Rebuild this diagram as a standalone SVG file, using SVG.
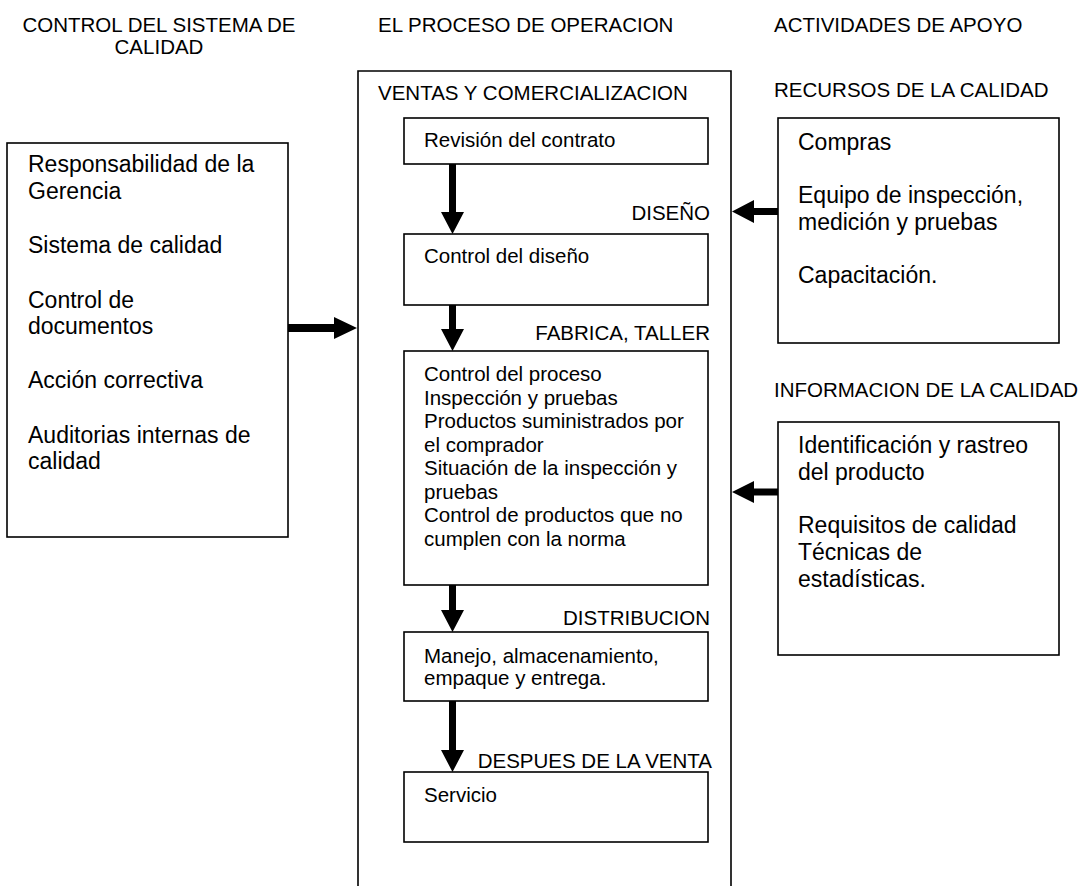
<svg xmlns="http://www.w3.org/2000/svg" width="1085" height="886" viewBox="0 0 1085 886">
  <style>
    .box { fill: #ffffff; stroke: #000000; stroke-width: 1.6; }
    .t { font-family: "Liberation Sans", Arial, sans-serif; fill: #000000; }
    .s { font-size: 20.5px; }
    .l { font-size: 23px; }
    .arrow { fill: #000000; stroke: none; }
  </style>
  <rect width="1085" height="886" fill="#ffffff"/>

  <!-- column headings -->
  <g id="headings">
    <text class="t s" x="159" y="32" text-anchor="middle">CONTROL DEL SISTEMA DE</text>
    <text class="t s" x="159" y="54" text-anchor="middle">CALIDAD</text>
    <text class="t s" x="378" y="32">EL PROCESO DE OPERACION</text>
    <text class="t s" x="774" y="32">ACTIVIDADES DE APOYO</text>
  </g>

  <!-- quality system control -->
  <g id="control-sistema">
    <rect class="box" x="7" y="143" width="281" height="394"/>
    <text class="t l" x="28" y="172">Responsabilidad de la</text>
    <text class="t l" x="28" y="199">Gerencia</text>
    <text class="t l" x="28" y="253">Sistema de calidad</text>
    <text class="t l" x="28" y="308">Control de</text>
    <text class="t l" x="28" y="334">documentos</text>
    <text class="t l" x="28" y="388">Acción correctiva</text>
    <text class="t l" x="28" y="443">Auditorias internas de</text>
    <text class="t l" x="28" y="469">calidad</text>
  </g>

  <!-- operation process frame (open at the bottom) -->
  <g id="proceso-operacion">
    <path d="M358,892 V71 H731 V892" fill="none" stroke="#000000" stroke-width="1.6"/>
    <text class="t s" x="378" y="100">VENTAS Y COMERCIALIZACION</text>
  </g>

  <g id="revision-contrato">
    <rect class="box" x="404" y="118" width="304" height="46"/>
    <text class="t s" x="424" y="147">Revisión del contrato</text>
  </g>

  <g id="diseno">
    <text class="t s" x="710" y="220" text-anchor="end">DISEÑO</text>
    <rect class="box" x="404" y="234" width="304" height="71"/>
    <text class="t s" x="424" y="263">Control del diseño</text>
  </g>

  <g id="fabrica-taller">
    <text class="t s" x="710" y="340" text-anchor="end">FABRICA, TALLER</text>
    <rect class="box" x="404" y="351" width="304" height="234"/>
    <text class="t s" x="424" y="381">Control del proceso</text>
    <text class="t s" x="424" y="404.5">Inspección y pruebas</text>
    <text class="t s" x="424" y="428">Productos suministrados por</text>
    <text class="t s" x="424" y="451.5">el comprador</text>
    <text class="t s" x="424" y="475">Situación de la inspección y</text>
    <text class="t s" x="424" y="498.5">pruebas</text>
    <text class="t s" x="424" y="522">Control de productos que no</text>
    <text class="t s" x="424" y="545.5">cumplen con la norma</text>
  </g>

  <g id="distribucion">
    <text class="t s" x="710" y="625" text-anchor="end">DISTRIBUCION</text>
    <rect class="box" x="404" y="632" width="304" height="69"/>
    <text class="t s" x="424" y="663">Manejo, almacenamiento,</text>
    <text class="t s" x="424" y="685">empaque y entrega.</text>
  </g>

  <g id="despues-venta">
    <text class="t s" x="712" y="768" text-anchor="end">DESPUES DE LA VENTA</text>
    <rect class="box" x="404" y="772" width="304" height="70"/>
    <text class="t s" x="424" y="802">Servicio</text>
  </g>

  <!-- support activities -->
  <g id="recursos-calidad">
    <text class="t s" x="774" y="97">RECURSOS DE LA CALIDAD</text>
    <rect class="box" x="778" y="118" width="281" height="225"/>
    <text class="t l" x="798" y="150">Compras</text>
    <text class="t l" x="798" y="203">Equipo de inspección,</text>
    <text class="t l" x="798" y="230">medición y pruebas</text>
    <text class="t l" x="798" y="283">Capacitación.</text>
  </g>

  <g id="informacion-calidad">
    <text class="t s" x="774" y="397">INFORMACION DE LA CALIDAD</text>
    <rect class="box" x="778" y="422" width="281" height="233"/>
    <text class="t l" x="798" y="453">Identificación y rastreo</text>
    <text class="t l" x="798" y="480">del producto</text>
    <text class="t l" x="798" y="533">Requisitos de calidad</text>
    <text class="t l" x="798" y="560">Técnicas de</text>
    <text class="t l" x="798" y="587">estadísticas.</text>
  </g>

  <!-- connectors: thick block arrows -->
  <g id="connectors">
    <polygon class="arrow" points="449,164 456,164 456,212 464,212 452.5,234 441,212 449,212"/>
    <polygon class="arrow" points="449,305 456,305 456,329 464,329 452.5,351 441,329 449,329"/>
    <polygon class="arrow" points="449,585 456,585 456,610 464,610 452.5,632 441,610 449,610"/>
    <polygon class="arrow" points="449,701 456,701 456,750 464,750 452.5,772 441,750 449,750"/>
    <polygon class="arrow" points="288,324 334,324 334,317 357,328 334,339 334,332 288,332"/>
    <polygon class="arrow" points="778,208 754,208 754,200 732,211.5 754,223 754,215 778,215"/>
    <polygon class="arrow" points="778,488.5 754,488.5 754,481 732,492 754,503 754,495.5 778,495.5"/>
  </g>
</svg>
